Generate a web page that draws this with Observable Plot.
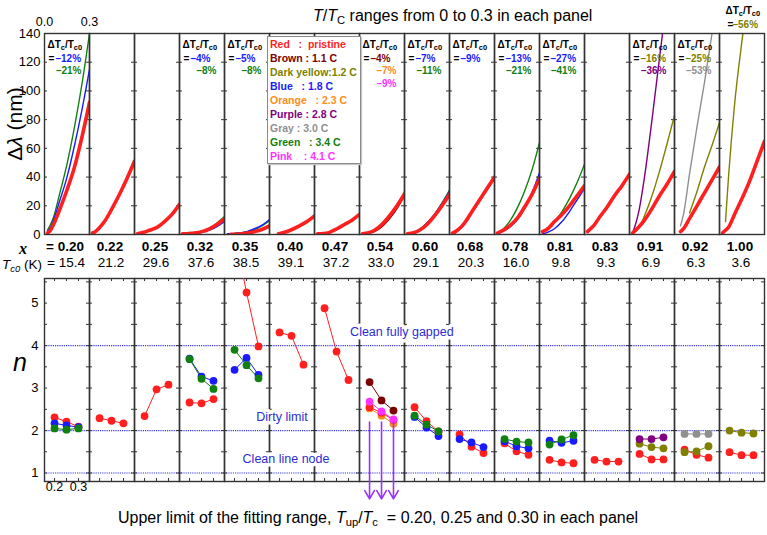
<!DOCTYPE html>
<html><head><meta charset="utf-8">
<script src="https://cdn.jsdelivr.net/npm/d3@7"></script>
<script src="https://cdn.jsdelivr.net/npm/@observablehq/plot@0.6"></script>
<style>
body{margin:0;background:#fff;font-family:"Liberation Sans",Arial,sans-serif;}
#wrap{position:relative;width:767px;height:535px;overflow:hidden;background:#fff;}
#wrap svg{position:absolute;left:0;}
.abs{position:absolute;white-space:pre;color:#000;}
sub{font-size:70%;vertical-align:-0.3em;line-height:0;}
#legend{position:absolute;left:267px;top:36px;width:90px;height:125px;border:1.5px solid #8a8a8a;background:#fff;box-shadow:1px 1px 1px #c8c8c8;font-weight:bold;font-size:10.5px;line-height:13.95px;padding:1px 0 0 2px;white-space:pre;z-index:5;}
</style></head>
<body><div id="wrap"></div>
<script>
// ---------- data ----------
const comps = ["0.20","0.22","0.25","0.32","0.35","0.40","0.47","0.54","0.60","0.68","0.78","0.81","0.83","0.91","0.92","1.00"];
const tc0 = [15.4,21.2,29.6,37.6,38.5,39.1,37.2,33.0,29.1,20.3,16.0,9.8,9.3,6.9,6.3,3.6];
const palette = {red:"#ff1f1f", brown:"#7b0000", olive:"#808000", blue:"#1a1aff", orange:"#ff8c1a", purple:"#800080", gray:"#8f8f8f", green:"#108010", pink:"#ff33ff"};

// top panels: Δλ (nm) vs T/Tc at these T/Tc values
const tGrid = [0.02,0.04,0.06,0.1,0.15,0.2,0.25,0.3];
const curvePanel = ["0.20","0.20","0.20","0.22","0.25","0.32","0.32","0.32","0.35","0.35","0.35","0.40","0.47",
  "0.54","0.54","0.54","0.54","0.60","0.60","0.60","0.68","0.68","0.78","0.78","0.78","0.81","0.81","0.81","0.83",
  "0.91","0.91","0.91","0.92","0.92","0.92","1.00","1.00"];
const curveColor = ["green","blue","red","red","red","green","blue","red","green","blue","red","red","red",
  "orange","pink","brown","red","green","blue","red","blue","red","green","blue","red","green","blue","red","red",
  "purple","olive","red","gray","olive","red","olive","red"];
const curveValues = [
  [3,7,12,28,49,75,105,140],
  [2,5,10,23,40,62,87,115],
  [1,3,7,17,31,47,68,92],
  [1,2,4,9,18,28,39,51],
  [0.5,1,1.5,3,5,9,14,21],
  [0.5,0.5,0.7,1.2,2.5,4.5,8,12.5],
  [0.3,0.3,0.4,0.8,1.5,3,5.5,9],
  [0.5,0.5,0.6,1,2,4,7,11],
  [0.5,0.5,0.6,1,2,3.5,6,9.5],
  [0.5,0.5,0.6,1,2,4,6.5,10.5],
  [null,0.2,0.2,0.3,1,2,3.5,6],
  [null,null,0.5,1.5,3.5,6,9,13],
  [0.5,0.5,0.6,1.5,4,7,10,14],
  [0.5,0.9,1.5,3.5,8,14,21,30],
  [0.5,0.8,1.3,3.2,7.5,13.5,20.5,29],
  [0.5,0.6,1,2,5.5,11,18,27],
  [0.5,0.8,1.2,3,7,13,20,28],
  [0.5,0.9,1.5,3.5,8,14,22,31],
  [0.5,0.9,1.5,3.5,8,14,21.5,30],
  [0.5,0.8,1.2,3,7,13,20,28],
  [0.5,1.5,3,7,15,23,31,39],
  [1,2,3.5,8,16,24,32,40],
  [1,2,4,9,18,30,45,64],
  [1,1.5,2.5,5,10,18,29,43],
  [1,2,3,6,11,19,28,39],
  [2,3,4.5,9,16,25,36,49],
  [0.5,1,1.8,4,9,16,24,32],
  [2,3,4.5,9,14,20,27,34],
  [2,4,6,12,19,27,34,42],
  [1,7,15,40,80,123,165,210],
  [0.5,2,4,13,27,44,63,83],
  [1,3,5,10,18,27,35,44],
  [null,6,14,42,75,106,140,175],
  [null,null,null,15,30,47,62,78],
  [null,2,4,11,20,29,38,47],
  [null,9,40,90,135,175,null,null],
  [1,3,5,14,25,37,51,65]
];

// ΔTc/Tc0 annotations
const annPanel = ["0.20","0.32","0.35","0.54","0.60","0.68","0.78","0.81","0.91","0.92","1.00"];
const annFirst = ["–12%","–4%","–5%","–4%","–7%","–9%","–13%","–27%","–16%","–25%","–56%"];
const annFirstColor = ["blue","blue","blue","brown","blue","blue","blue","blue","olive","olive","olive"];
const annSecond = ["–21%","–8%","–8%","–7%","–11%",null,"–21%","–41%","–36%","–53%",null];
const annSecondColor = ["green","green","green","orange","green",null,"green","green","purple","gray",null];
const annThird = [null,null,null,"–9%",null,null,null,null,null,null,null];
const annThirdColor = [null,null,null,"pink",null,null,null,null,null,null,null];

// bottom panels: exponent n at Tup/Tc
const tup = [0.2,0.25,0.3];
const nPanel = ["0.20","0.20","0.20","0.22","0.25","0.32","0.32","0.32","0.35","0.35","0.35","0.40","0.47",
  "0.54","0.54","0.54","0.54","0.60","0.60","0.60","0.68","0.68","0.78","0.78","0.78","0.81","0.81","0.81","0.83",
  "0.91","0.91","0.91","0.92","0.92","0.92","1.00","1.00"];
const nColor = ["red","blue","green","red","red","red","blue","green","red","blue","green","red","red",
  "orange","red","pink","brown","red","blue","green","red","blue","red","blue","green","red","blue","green","red",
  "red","olive","purple","red","olive","gray","red","olive"];
const nValues = [
  [2.31,2.21,2.09],[2.17,2.12,2.08],[2.05,2.02,2.05],
  [2.29,2.23,2.17],
  [2.34,2.97,3.08],
  [2.66,2.64,2.74],[3.69,3.27,3.17],[3.68,3.22,2.98],
  [6.65,5.25,3.98],[3.43,3.71,3.31],[3.90,3.54,3.23],
  [4.31,4.23,3.55],
  [4.88,3.86,3.19],
  [2.52,2.35,2.16],[2.55,2.42,2.25],[2.68,2.45,2.26],[3.14,2.71,2.47],
  [2.55,2.22,1.98],[2.32,2.07,1.87],[2.35,2.14,1.98],
  [1.91,1.62,1.47],[1.80,1.72,1.61],
  [1.70,1.51,1.43],[1.75,1.63,1.58],[1.80,1.74,1.72],
  [1.31,1.25,1.23],[1.76,1.71,1.76],[1.67,1.79,1.89],
  [1.31,1.27,1.27],
  [1.45,1.32,1.32],[1.69,1.61,1.58],[1.80,1.80,1.84],
  [1.55,1.43,1.36],[1.49,1.51,1.63],[1.92,1.92,1.92],
  [1.49,1.42,1.42],[2.00,1.95,1.93]
];
const refN = [4, 2, 1];
const refLabels = ["Clean fully gapped","Dirty limit","Clean line node"];
const refLabelPanel = ["0.54","0.40","0.40"];
const refLabelX = [0.335,0.21,0.227];
const refLabelN = [4.31,2.31,1.32];
const arrowPanel = "0.54";
const arrowTop = 2.2, arrowBottom = 0.39;

const legendLabels = ["Red   :  pristine","Brown : 1.1 C","Dark yellow:1.2 C","Blue   : 1.8 C","Orange   : 2.3 C","Purple : 2.8 C","Gray : 3.0 C","Green   : 3.4 C","Pink    : 4.1 C"];
const legendColors = ["red","brown","olive","blue","orange","purple","gray","green","pink"];

// ---------- build ----------
const font = "'Liberation Sans', Arial, sans-serif";
const wrap = document.getElementById("wrap");

const curveRows = [];
curveValues.forEach((vals, k) => vals.forEach((v, j) => {
  if (v != null) curveRows.push({panel: curvePanel[k], id: k, t: tGrid[j], v, color: palette[curveColor[k]], red: curveColor[k] === "red"});
}));
const ann = annPanel.map((p, i) => ({p, i}));
const annN = ann.filter(d => d.p !== "1.00");
const annL = ann.filter(d => d.p === "1.00");
const annTxt = {fontWeight: "bold", fontSize: 10, lineAnchor: "middle", frameAnchor: "top-left"};

const topPlot = Plot.plot({
  width: 767, height: 280,
  marginLeft: 44, marginRight: 3, marginTop: 33, marginBottom: 46,
  style: {fontFamily: font, fontSize: "13px", background: "none", overflow: "visible"},
  fx: {domain: comps, padding: 0, axis: null, label: null},
  x: {domain: [0, 0.3], axis: null},
  y: {domain: [0, 140], ticks: 7, tickSize: 0, tickPadding: 4, label: null},
  color: {type: "identity"},
  marks: [
    Plot.tickY(d3.range(20, 140, 20), {y: d => d, insetRight: 42, stroke: "#333"}),
    Plot.tickY(d3.range(20, 140, 20), {y: d => d, insetLeft: 42, stroke: "#333"}),
    Plot.line(curveRows.filter(d => !d.red), {fx: "panel", x: "t", y: "v", z: "id", stroke: "color", strokeWidth: 1.4, curve: "monotone-x", clip: true}),
    Plot.line(curveRows.filter(d => d.red), {fx: "panel", x: "t", y: "v", z: "id", stroke: "color", strokeWidth: 3.6, curve: "monotone-x", clip: true}),
    Plot.frame({stroke: "#333", strokeWidth: 1.4}),
    Plot.text([0, 0.3], {x: d => d, fx: () => comps[0], frameAnchor: "top", dy: -16, text: d => d.toFixed(1), fontSize: 12.5}),
    Plot.text(comps, {fx: d => d, frameAnchor: "bottom", dy: 16, dx: -2, text: (d, i) => i === 0 ? "= " + d : d, fontWeight: "bold", fontSize: 13.5}),
    Plot.text(comps, {fx: d => d, frameAnchor: "bottom", dy: 32, dx: -1, text: (d, i) => (i === 0 ? "= " : "") + tc0[i].toFixed(1), fontSize: 13.5}),
    Plot.text(annN, {...annTxt, fx: "p", dx: 3, dy: 11, text: () => "ΔT_c/T_c0", textAnchor: "start"}),
    Plot.text(annN, {...annTxt, fx: "p", dx: 4, dy: 25, text: () => "=", textAnchor: "start"}),
    Plot.text(annN, {...annTxt, fx: "p", dx: 11, dy: 25, text: d => annFirst[d.i], fill: d => palette[annFirstColor[d.i]], textAnchor: "start"}),
    Plot.text(annN.filter(d => annSecond[d.i]), {...annTxt, fx: "p", dx: 37, dy: 37.5, text: d => annSecond[d.i], fill: d => palette[annSecondColor[d.i]], textAnchor: "end"}),
    Plot.text(annN.filter(d => annThird[d.i]), {...annTxt, fx: "p", dx: 37, dy: 50, text: d => annThird[d.i], fill: d => palette[annThirdColor[d.i]], textAnchor: "end"}),
    Plot.text(annL, {...annTxt, fx: "p", dx: 6, dy: -23, text: () => "ΔT_c/T_c0", textAnchor: "start"}),
    Plot.text(annL, {...annTxt, fx: "p", dx: 8, dy: -9, text: () => "=", textAnchor: "start"}),
    Plot.text(annL, {...annTxt, fx: "p", dx: 13, dy: -9, text: d => annFirst[d.i], fill: d => palette[annFirstColor[d.i]], textAnchor: "start"})
  ]
});
topPlot.style.top = "0px";

function subify(svg) {
  svg.querySelectorAll("text").forEach(t => {
    const s = t.textContent;
    if (!s.includes("_")) return;
    while (t.firstChild) t.removeChild(t.firstChild);
    let shifted = false;
    s.split(/(_[A-Za-z0-9]+)/).filter(p => p).forEach(p => {
      const ts = document.createElementNS("http://www.w3.org/2000/svg", "tspan");
      if (p[0] === "_") { ts.textContent = p.slice(1); ts.setAttribute("font-size", "7.5"); if (!shifted) ts.setAttribute("dy", "2.5"); shifted = true; }
      else { ts.textContent = p; if (shifted) { ts.setAttribute("dy", "-2.5"); shifted = false; } }
      t.appendChild(ts);
    });
  });
}
subify(topPlot);

const nRows = [];
nValues.forEach((vals, k) => vals.forEach((n, j) => nRows.push({panel: nPanel[k], id: k, x: tup[j], n, color: palette[nColor[k]]})));
const refLab = refLabels.map((s, i) => ({s, i}));

const botPlot = Plot.plot({
  width: 767, height: 265,
  marginLeft: 44, marginRight: 3, marginTop: 8, marginBottom: 54,
  style: {fontFamily: font, fontSize: "13px", background: "none", overflow: "visible"},
  fx: {domain: comps, padding: 0, axis: null, label: null},
  x: {domain: [0.158, 0.346], axis: null},
  y: {domain: [0.8, 5.58], ticks: 5, tickFormat: "d", tickSize: 0, tickPadding: 6, label: null},
  color: {type: "identity"},
  marks: [
    Plot.ruleY(refN, {y: d => d, stroke: "#3a3ae0", strokeWidth: 1.2, strokeDasharray: "1.2,1"}),
    Plot.tickY(d3.range(1, 5.6, 0.5), {y: d => d, insetRight: 42, stroke: "#333"}),
    Plot.tickY(d3.range(1, 5.6, 0.5), {y: d => d, insetLeft: 42, stroke: "#333"}),
    Plot.tickX(tup, {x: d => d, insetBottom: 200, stroke: "#333"}),
    Plot.tickX(tup, {x: d => d, insetTop: 200, stroke: "#333"}),
    Plot.frame({stroke: "#333", strokeWidth: 1.4}),
    Plot.text(refLab, {fx: d => refLabelPanel[d.i], x: d => refLabelX[d.i], y: d => refLabelN[d.i], text: "s", fill: "#2c2cd6", fontSize: 12.5, stroke: "white", strokeWidth: 7}),
    Plot.line(nRows, {fx: "panel", x: "x", y: "n", z: "id", stroke: "color", strokeWidth: 1, clip: true}),
    Plot.dot(nRows, {fx: "panel", x: "x", y: "n", fill: "color", r: 3.9, clip: true}),
    Plot.arrow(tup, {fx: () => arrowPanel, x1: d => d, x2: d => d, y1: () => arrowTop, y2: () => arrowBottom, stroke: "#9933ff", strokeWidth: 1.6, headLength: 9}),
    Plot.text([0.2, 0.3], {x: d => d, fx: () => comps[0], frameAnchor: "bottom", dy: 9, text: d => d.toFixed(1), fontSize: 12.5})
  ]
});
botPlot.style.top = "270px";

wrap.appendChild(topPlot);
wrap.appendChild(botPlot);

function addDiv(html, css) {
  const d = document.createElement("div");
  d.className = "abs";
  d.innerHTML = html;
  Object.assign(d.style, css);
  wrap.appendChild(d);
  return d;
}
addDiv("<i>T</i>/<i>T</i><sub>C</sub> ranges from 0 to 0.3 in each panel", {left: "313px", top: "7px", fontSize: "16px"});
addDiv("Δ<i>λ</i> (nm)", {left: "-45px", top: "112px", width: "120px", textAlign: "center", fontSize: "21px", transform: "rotate(-90deg)"});
addDiv("<i>n</i>", {left: "13px", top: "348px", fontSize: "25px", fontFamily: "'Liberation Sans', Arial, sans-serif"});
addDiv("<i>x</i>", {left: "19px", top: "240px", fontSize: "16px", fontWeight: "bold", fontFamily: "'Liberation Serif', 'Times New Roman', serif"});
addDiv("<i>T</i><sub><i>c0</i></sub> (K)", {left: "2px", top: "257px", fontSize: "13.5px"});
addDiv("Upper limit of the fitting range, <i>T</i><sub>up</sub>/<i>T</i><sub>c</sub>  = 0.20, 0.25 and 0.30 in each panel", {left: "118px", top: "509px", fontSize: "16px"});

const leg = document.createElement("div");
leg.id = "legend";
leg.innerHTML = legendLabels.map((s, i) => `<div style="color:${palette[legendColors[i]]}">${s}</div>`).join("");
wrap.appendChild(leg);
</script></body></html>
